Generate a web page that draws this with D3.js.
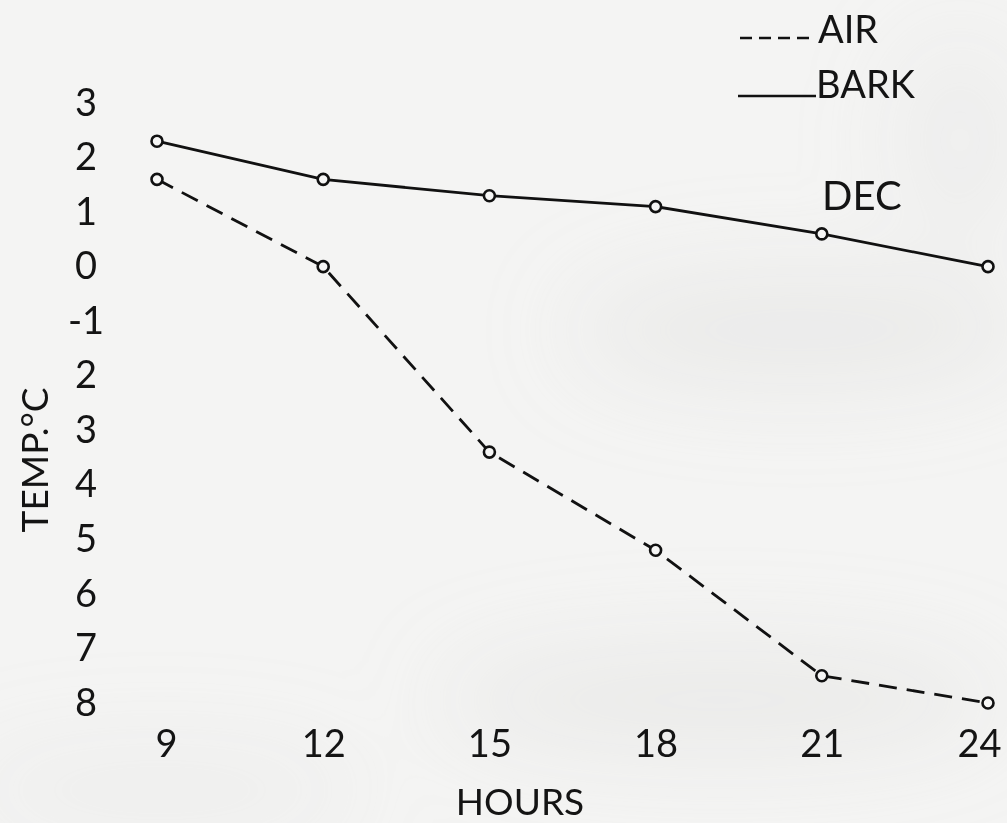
<!DOCTYPE html>
<html>
<head>
<meta charset="utf-8">
<script src="https://cdn.jsdelivr.net/npm/d3@7"></script>
<style>
  html, body { margin: 0; padding: 0; background: #f2f2f1; }
  svg { display: block; }
  text { font-family: Lato, "Open Sans", sans-serif; fill: #141414; }
</style>
</head>
<body>
<svg id="chart" width="1007" height="823"></svg>
<script>
// Bark and air temperature through a December day
const hours = [9, 12, 15, 18, 21, 24];
const barkTemp = [2.3, 1.6, 1.3, 1.1, 0.6, 0.0];
const airTemp = [1.6, 0.0, -3.4, -5.2, -7.5, -8.0];

// Temperature ticks: below freezing the minus sign is only written on -1
const yTickValues = [3, 2, 1, 0, -1, -2, -3, -4, -5, -6, -7, -8];
const yTickLabels = ["3", "2", "1", "0", "-1", "2", "3", "4", "5", "6", "7", "8"];
const xTickLabels = ["9", "12", "15", "18", "21", "24"];

const svg = d3.select("#chart");
const W = 1007, H = 823;

// Paper tone with soft uneven shading
const defs = svg.append("defs");
defs.append("filter").attr("id", "soft")
  .attr("x", "-50%").attr("y", "-50%").attr("width", "200%").attr("height", "200%")
  .append("feGaussianBlur").attr("stdDeviation", 45);
svg.append("rect").attr("width", W).attr("height", H).attr("fill", "#f4f4f3");
const shade = svg.append("g").attr("filter", "url(#soft)");
[
  {cx: 800, cy: 330, rx: 230, ry: 60, o: 0.3},
  {cx: 720, cy: 700, rx: 280, ry: 55, o: 0.3},
  {cx: 160, cy: 790, rx: 200, ry: 45, o: 0.2},
  {cx: 960, cy: 140, rx: 70, ry: 110, o: 0.2}
].forEach(e => shade.append("ellipse")
  .attr("cx", e.cx).attr("cy", e.cy).attr("rx", e.rx).attr("ry", e.ry)
  .attr("fill", "#d6d6d5").attr("opacity", e.o));

const x = d3.scaleLinear().domain([9, 24]).range([157, 988]);
const y = d3.scaleLinear().domain([3, -8]).range([103, 703]);

// Y axis labels (no axis line is drawn)
const yAxis = d3.axisLeft(y)
  .tickValues(yTickValues)
  .tickFormat((d, i) => yTickLabels[i])
  .tickSize(0).tickPadding(0);
const gy = svg.append("g").attr("transform", "translate(96,0)").call(yAxis);
gy.select(".domain").remove();
gy.selectAll("text")
  .attr("text-anchor", "middle").attr("x", -10)
  .style("font-family", "Lato, sans-serif").style("font-size", "38px").attr("fill", "#141414");

// X axis labels
const xAxis = d3.axisBottom(x)
  .tickValues(hours)
  .tickFormat((d, i) => xTickLabels[i])
  .tickSize(0).tickPadding(0);
const gx = svg.append("g").attr("transform", "translate(0,730)").call(xAxis);
gx.select(".domain").remove();
gx.selectAll("text")
  .style("font-family", "Lato, sans-serif").style("font-size", "38px").attr("fill", "#141414");
gx.selectAll(".tick").filter(d => d === 9).select("text").attr("x", 9);
gx.selectAll(".tick").filter(d => d === 24).select("text").attr("text-anchor", "end").attr("x", 13);

// Axis titles
svg.append("text").attr("x", 520).attr("y", 815).attr("text-anchor", "middle")
  .style("font-size", "37px").text("HOURS");
svg.append("text").attr("transform", "translate(48,460) rotate(-90)")
  .attr("text-anchor", "middle").style("font-size", "37px").text("TEMP.°C");

// Series lines
const line = d3.line().x(d => x(d[0])).y(d => y(d[1]));
const series = [
  {name: "BARK", values: barkTemp, dash: null},
  {name: "AIR", values: airTemp, dash: "18,10"}
];
series.forEach(s => {
  const pts = hours.map((h, i) => [h, s.values[i]]);
  svg.append("path").datum(pts)
    .attr("d", line).attr("fill", "none")
    .attr("stroke", "#111").attr("stroke-width", 2.8)
    .attr("stroke-dasharray", s.dash);
  svg.append("g").selectAll("circle").data(pts).join("circle")
    .attr("cx", d => x(d[0])).attr("cy", d => y(d[1])).attr("r", 5.5)
    .attr("fill", "#f6f6f5").attr("stroke", "#111").attr("stroke-width", 2.6);
});

// Legend
svg.append("line").attr("x1", 740).attr("x2", 812).attr("y1", 38).attr("y2", 38)
  .attr("stroke", "#111").attr("stroke-width", 2.4).attr("stroke-dasharray", "12,7");
svg.append("text").attr("x", 818).attr("y", 43).style("font-size", "38px").text("AIR");
svg.append("line").attr("x1", 738).attr("x2", 816).attr("y1", 96).attr("y2", 96)
  .attr("stroke", "#111").attr("stroke-width", 2.6);
svg.append("text").attr("x", 816).attr("y", 98).style("font-size", "38px").text("BARK");

// Month label
svg.append("text").attr("x", 822).attr("y", 210).style("font-size", "40px").text("DEC");
</script>
</body>
</html>
